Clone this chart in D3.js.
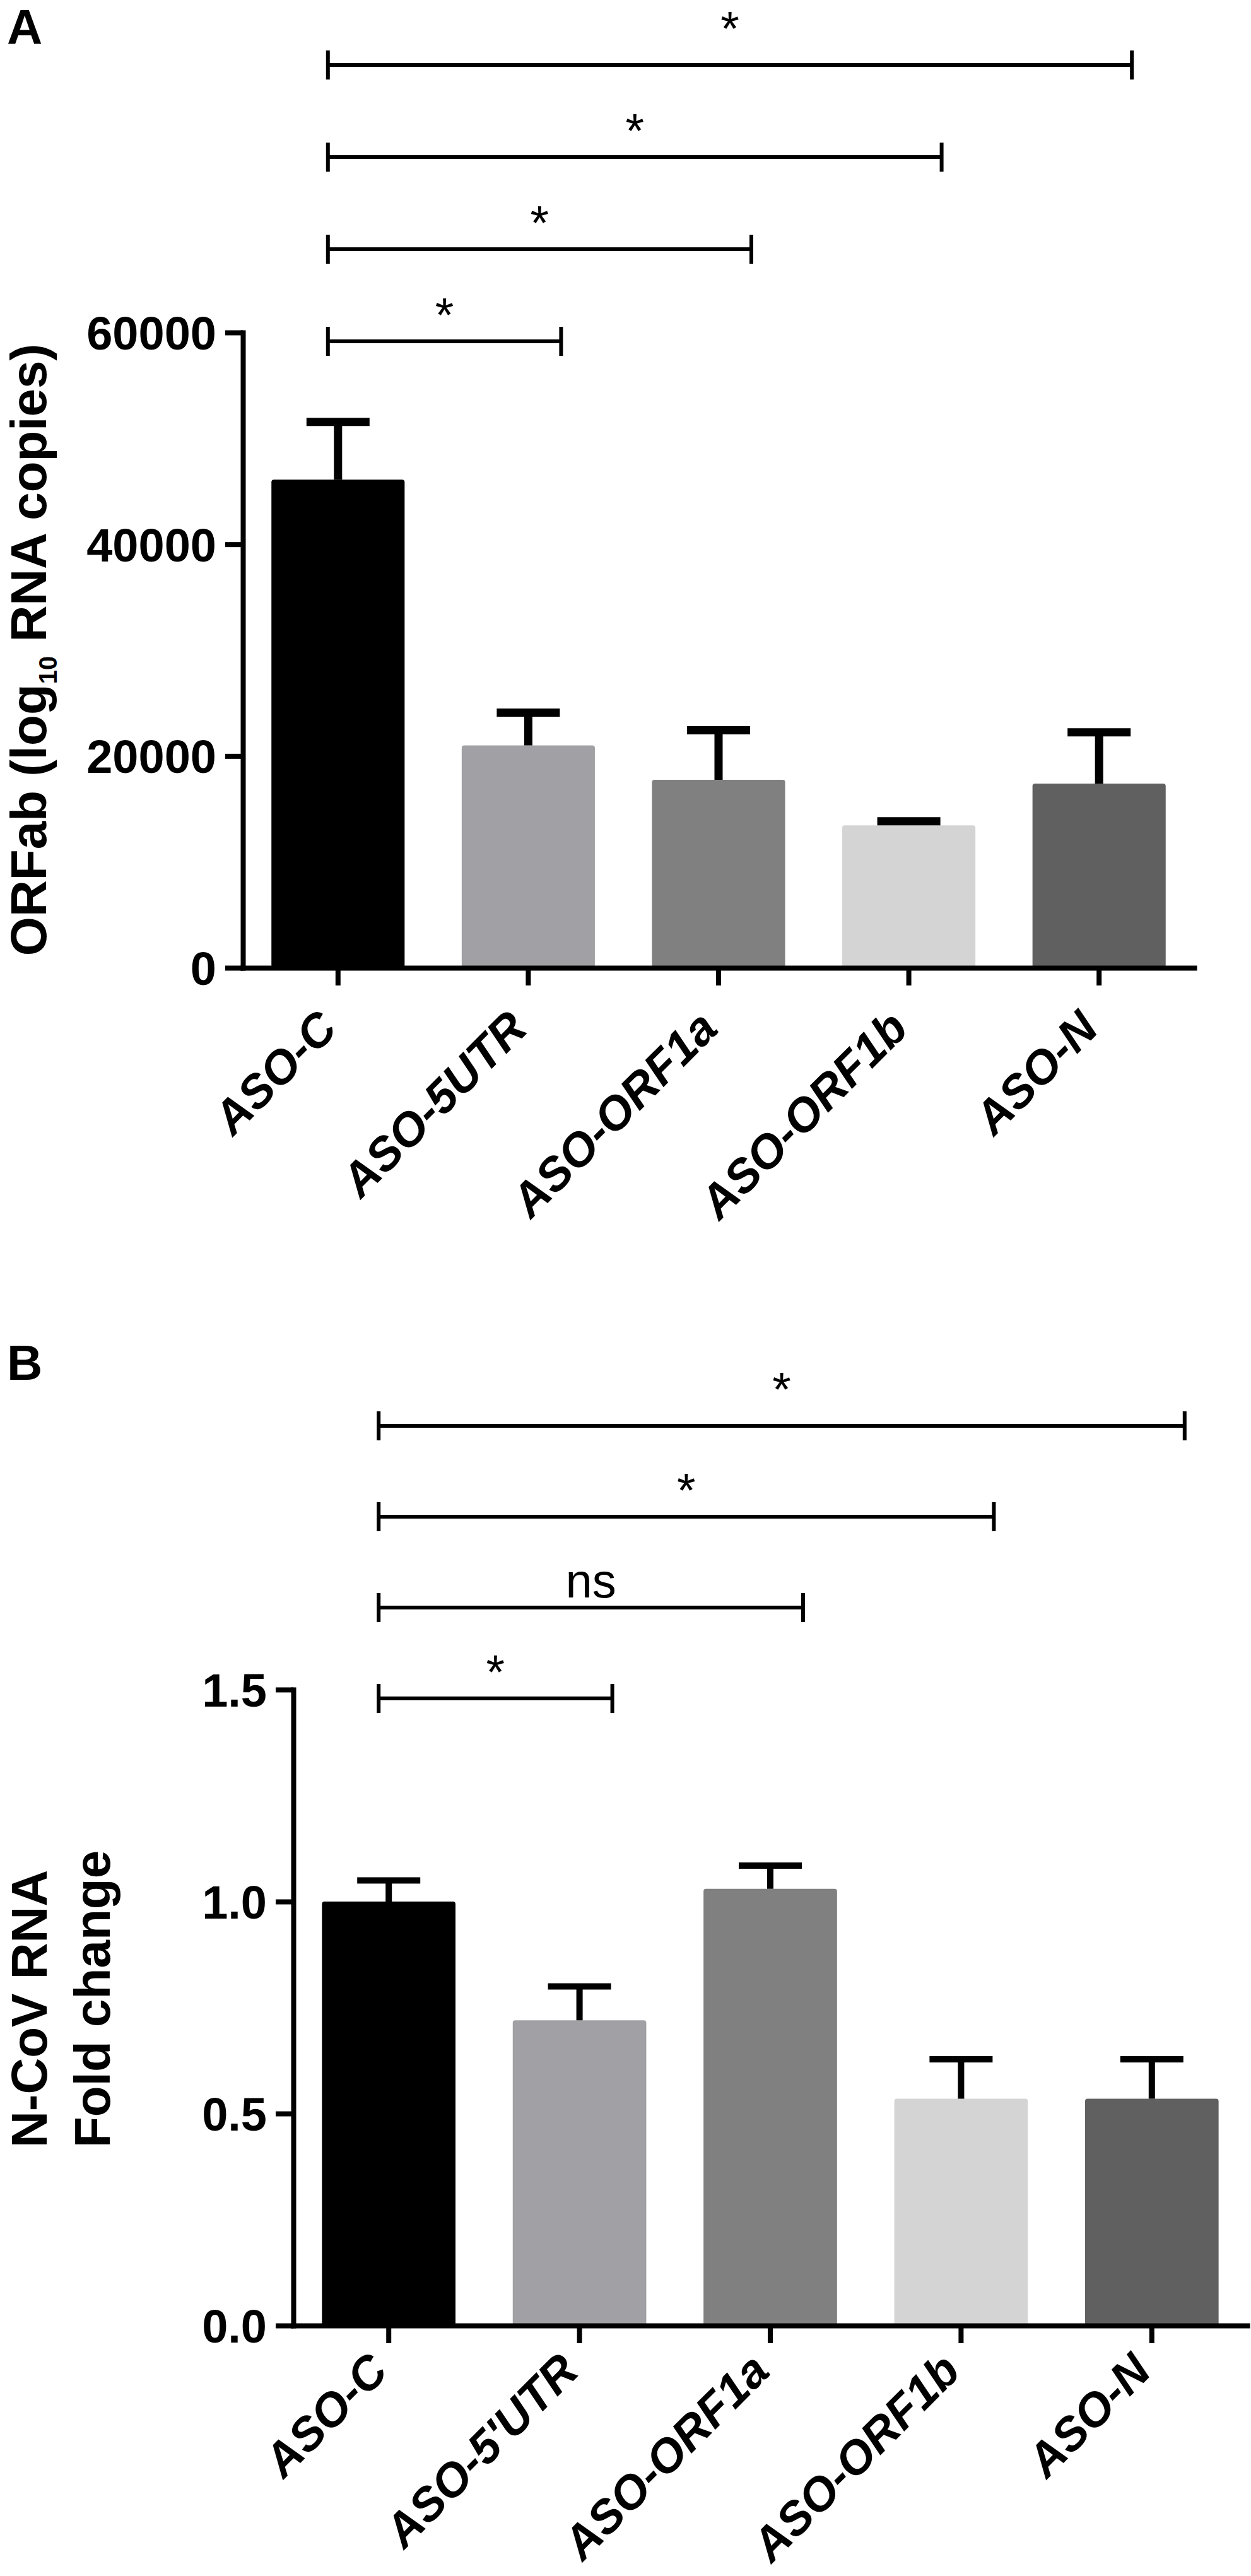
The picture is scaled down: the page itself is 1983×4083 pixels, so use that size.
<!DOCTYPE html>
<html>
<head>
<meta charset="utf-8">
<script src="https://cdn.jsdelivr.net/npm/d3@7"></script>
<style>
  body { margin: 0; background: #fff; }
  svg { display: block; }
  text { font-family: "Liberation Sans", Arial, sans-serif; fill: #000; }
</style>
</head>
<body>
<svg id="fig" width="1983" height="4083"></svg>
<script>
// panel A data
const categoriesA = ['ASO-C', 'ASO-5UTR', 'ASO-ORF1a', 'ASO-ORF1b', 'ASO-N'];
const meansA = [46100, 21000, 17750, 13450, 17400];
const errorsA = [5450, 3100, 4680, 390, 4840];
const ticksA = [0, 20000, 40000, 60000];
const compareA = ['ASO-5UTR', 'ASO-ORF1a', 'ASO-ORF1b', 'ASO-N'];
const signifA = ['*', '*', '*', '*'];

// panel B data
const categoriesB = ['ASO-C', "ASO-5'UTR", 'ASO-ORF1a', 'ASO-ORF1b', 'ASO-N'];
const meansB = [1.0, 0.72, 1.03, 0.535, 0.535];
const errorsB = [0.05, 0.08, 0.055, 0.093, 0.093];
const ticksB = [0, 0.5, 1.0, 1.5];
const compareB = ["ASO-5'UTR", 'ASO-ORF1a', 'ASO-ORF1b', 'ASO-N'];
const signifB = ['*', 'ns', '*', '*'];

const barColors = ['#000000', '#a1a0a5', '#808080', '#d4d4d4', '#606060'];

const svg = d3.select('#fig');

function drawPanel(opt) {
  const g = svg.append('g');

  const x = d3.scaleBand()
    .domain(opt.categories)
    .range([opt.left, opt.right])
    .paddingInner(0.3)
    .paddingOuter(0.15);

  const y = d3.scaleLinear()
    .domain([0, opt.yMax])
    .range([opt.bottom, opt.top]);

  // bars
  g.selectAll('rect.bar')
    .data(opt.means)
    .join('rect')
      .attr('class', 'bar')
      .attr('x', (d, i) => x(opt.categories[i]))
      .attr('width', x.bandwidth())
      .attr('y', d => y(d))
      .attr('height', d => y(0) - y(d))
      .attr('rx', 4)
      .attr('fill', (d, i) => barColors[i]);

  // upper error bars only
  const cx = i => x(opt.categories[i]) + x.bandwidth() / 2;
  g.selectAll('path.err')
    .data(opt.means)
    .join('path')
      .attr('class', 'err')
      .attr('d', (d, i) => {
        const top = y(d + opt.errors[i]);
        return `M${cx(i)},${y(d)}V${top}M${cx(i) - 50},${top}H${cx(i) + 50}`;
      })
      .attr('stroke', '#000')
      .attr('stroke-width', opt.errWidth)
      .attr('fill', 'none');

  // axes
  const yAxis = d3.axisLeft(y)
    .tickValues(opt.ticks)
    .tickFormat(opt.format)
    .tickSize(28)
    .tickSizeOuter(0)
    .tickPadding(14);

  const xAxis = d3.axisBottom(x)
    .tickSize(28)
    .tickSizeOuter(0);

  const gx = g.append('g')
    .attr('transform', `translate(0,${opt.bottom})`)
    .call(xAxis);

  const gy = g.append('g')
    .attr('transform', `translate(${opt.left},0)`)
    .call(yAxis);

  [gx, gy].forEach(a => {
    a.attr('font-family', null).attr('font-size', null);
    a.select('.domain').attr('stroke-width', 8).attr('stroke-linecap', 'square');
    a.selectAll('.tick line').attr('stroke-width', 8);
  });

  gy.selectAll('.tick text')
    .attr('font-size', 74)
    .attr('font-weight', 'bold')
    .attr('dy', '0.36em');

  gx.selectAll('.tick text')
    .attr('font-size', 74)
    .attr('font-weight', 'bold')
    .attr('font-style', 'italic')
    .attr('y', 0)
    .attr('dy', null)
    .attr('text-anchor', 'end')
    .attr('transform', `translate(2,${opt.labelDrop}) rotate(-45)`);

  // significance brackets, stacked above the axis top
  const last = opt.compare.length - 1;
  opt.compare.forEach((c, lvl) => {
    const by = y(opt.yMax) + 14 - lvl * opt.step;
    const x0 = cx(0) - 16;
    const x1 = cx(opt.categories.indexOf(c)) + 52;
    g.append('path')
      .attr('d', `M${x0},${by - 23}V${by + 23}M${x0},${by}H${x1}M${x1},${by - 23}V${by + 23}`)
      .attr('stroke', '#000')
      .attr('stroke-width', 6)
      .attr('fill', 'none');
    g.append('text')
      .attr('x', (x0 + x1) / 2)
      .attr('y', by - (lvl === last ? 32 : 16))
      .attr('text-anchor', 'middle')
      .attr('font-size', 76)
      .style('font-family', '"Liberation Sans Narrow", "Liberation Sans", Arial, sans-serif')
      .text(opt.signif[lvl]);
  });

  // panel letter
  g.append('text')
    .attr('x', 11)
    .attr('y', opt.letterY)
    .attr('font-size', 78)
    .attr('font-weight', 'bold')
    .text(opt.letter);

  return g;
}

const gA = drawPanel({
  categories: categoriesA, means: meansA, errors: errorsA,
  ticks: ticksA, format: d3.format('d'), compare: compareA, signif: signifA,
  yMax: 60000, left: 385, right: 1893, top: 527, bottom: 1534, step: 146,
  errWidth: 13, labelDrop: 100, letter: 'A', letterY: 70
});

const titleA = gA.append('text')
  .attr('transform', 'translate(73,1030) rotate(-90)')
  .attr('text-anchor', 'middle')
  .attr('font-size', 80)
  .attr('font-weight', 'bold');
titleA.append('tspan').text('ORFab (log');
titleA.append('tspan').attr('font-size', 40).attr('dy', 17).text('10');
titleA.append('tspan').attr('dy', -17).text(' RNA copies)');

const gB = drawPanel({
  categories: categoriesB, means: meansB, errors: errorsB,
  ticks: ticksB, format: d3.format('.1f'), compare: compareB, signif: signifB,
  yMax: 1.5, left: 465, right: 1977, top: 2678, bottom: 3686, step: 144,
  errWidth: 10, labelDrop: 76, letter: 'B', letterY: 2187
});

['N-CoV RNA', 'Fold change'].forEach((line, i) => {
  gB.append('text')
    .attr('transform', `translate(${74 + i * 100},3404) rotate(-90)`)
    .attr('font-size', 80)
    .attr('font-weight', 'bold')
    .text(line);
});
</script>
</body>
</html>
